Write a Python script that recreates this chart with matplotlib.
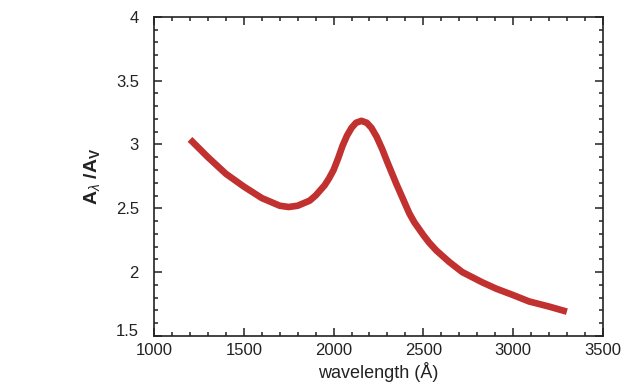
import matplotlib
matplotlib.use("Agg")
import matplotlib.pyplot as plt
from matplotlib.ticker import MultipleLocator

wavelength = [1200, 1300, 1400, 1500, 1600, 1700, 1750, 1800, 1867, 1900, 1950, 1975,
              2000, 2025, 2050, 2075, 2100, 2125, 2155, 2185, 2211, 2240, 2272, 2300,
              2350, 2400, 2422, 2450, 2480, 2500, 2533, 2572, 2644, 2717, 2828, 2906,
              3000, 3089, 3200, 3300]
ratio = [3.04, 2.90, 2.77, 2.67, 2.58, 2.52, 2.51, 2.52, 2.56, 2.60, 2.68, 2.735,
         2.80, 2.89, 2.99, 3.07, 3.13, 3.17, 3.185, 3.17, 3.13, 3.06, 2.96, 2.86,
         2.69, 2.53, 2.46, 2.39, 2.33, 2.29, 2.23, 2.17, 2.08, 2.00, 1.92, 1.87,
         1.82, 1.77, 1.73, 1.69]
xticks = [1000, 1500, 2000, 2500, 3000, 3500]
yticks = [1.5, 2, 2.5, 3, 3.5, 4]
ytick_labels = ["1.5", "2", "2.5", "3", "3.5", "4"]

plt.rcParams['font.family'] = ['Liberation Sans', 'DejaVu Sans']
plt.rcParams['mathtext.fontset'] = 'custom'
plt.rcParams['mathtext.rm'] = 'Liberation Sans'
plt.rcParams['mathtext.it'] = 'Liberation Sans:italic'
plt.rcParams['mathtext.bf'] = 'Liberation Sans:bold'

fig = plt.figure(figsize=(6.24, 3.83), dpi=100)
ax = fig.add_axes([0.247, 0.123, 0.719, 0.833])

ax.plot(wavelength, ratio, color='#C0312F', lw=4.8, solid_capstyle='butt',
        solid_joinstyle='round')

ax.set_xlim(1000, 3500)
ax.set_ylim(1.5, 4)
ax.set_xticks(xticks)
ax.set_yticks(yticks)
ax.set_yticklabels(ytick_labels)
ax.xaxis.set_minor_locator(MultipleLocator(100))
ax.yaxis.set_minor_locator(MultipleLocator(0.1))
ax.tick_params(which='both', direction='in', top=True, right=True, colors='#222222',
               labelsize=12, width=1.1)
ax.tick_params(which='major', length=6)
ax.tick_params(which='minor', length=3)
ax.tick_params(axis='x', pad=5)
ax.tick_params(axis='y', pad=11)
# the lowest y label sits slightly above its tick in the reference
ax.get_yticklabels()[0].set_va('baseline')
for s in ax.spines.values():
    s.set_linewidth(1.2)
    s.set_color('#222222')

ax.set_xlabel('wavelength (Å)', fontsize=13, labelpad=3, color='#222222')
ax.set_ylabel(r'$\mathbf{A}_{\lambda}$ /$\mathbf{A}_{\mathbf{V}}$', fontsize=14,
              fontweight='bold', labelpad=10, color='#222222')

fig.savefig('out.png', dpi=100)
